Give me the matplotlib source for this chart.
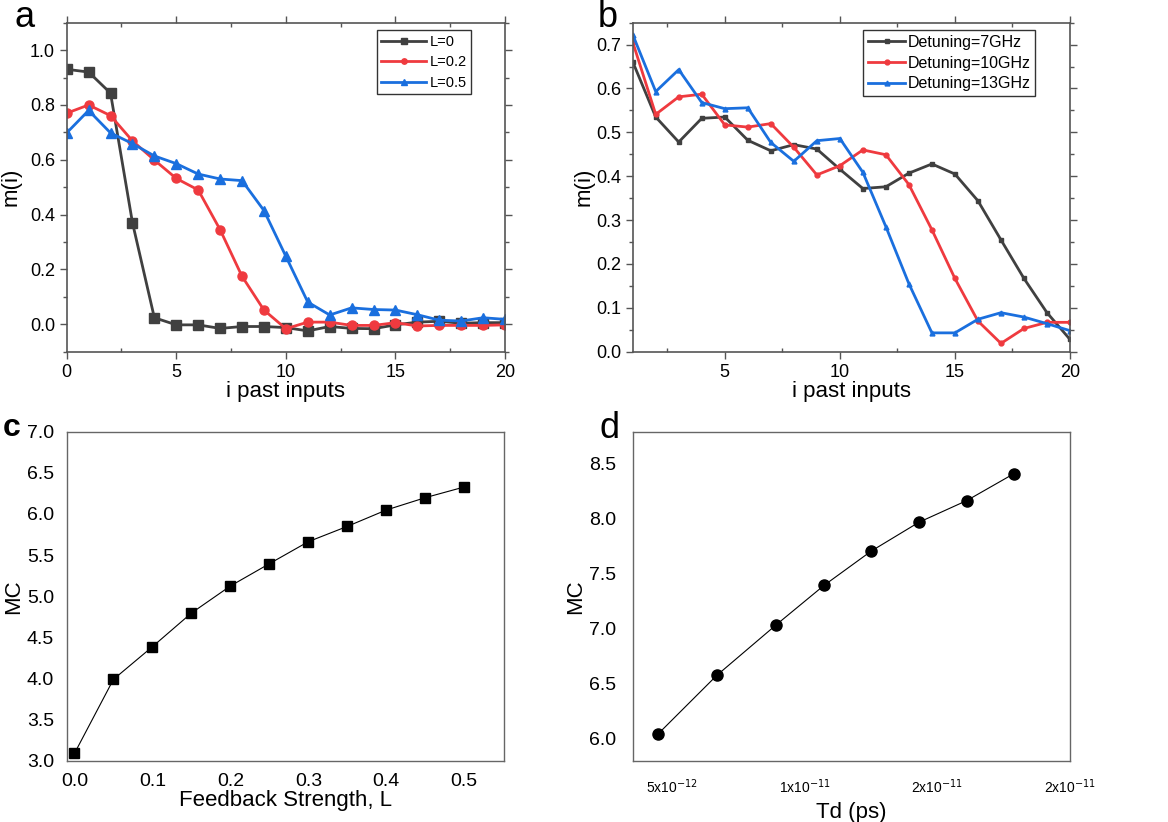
import numpy as np
import matplotlib.pyplot as plt
from matplotlib.ticker import MultipleLocator, FixedLocator, FuncFormatter

plt.rcParams['font.family'] = ['Liberation Sans', 'DejaVu Sans']

# panel a: memory function for different feedback strengths
i_a = list(range(21))
m_L0 = [0.93, 0.92, 0.843, 0.371, 0.024, -0.002, -0.002, -0.015, -0.008, -0.008, -0.012,
        -0.024, -0.008, -0.015, -0.016, -0.002, 0.008, 0.011, 0.004, 0.006, 0.006]
m_L02 = [0.770, 0.800, 0.761, 0.669, 0.599, 0.532, 0.490, 0.345, 0.175, 0.052, -0.016,
         0.008, 0.008, -0.004, -0.004, 0.006, -0.006, -0.004, -0.004, -0.004, -0.002]
m_L05 = [0.698, 0.780, 0.698, 0.659, 0.614, 0.586, 0.548, 0.530, 0.524, 0.415, 0.248,
         0.081, 0.034, 0.060, 0.054, 0.052, 0.035, 0.015, 0.012, 0.024, 0.018]
labels_a = ['L=0', 'L=0.2', 'L=0.5']

# panel b: memory function for different detunings
i_b = list(range(1, 21))
m_7GHz = [0.661, 0.535, 0.478, 0.532, 0.535, 0.482, 0.458, 0.472, 0.462, 0.416,
          0.372, 0.376, 0.407, 0.428, 0.405, 0.344, 0.255, 0.167, 0.089, 0.028]
m_10GHz = [0.706, 0.541, 0.581, 0.587, 0.517, 0.512, 0.520, 0.466, 0.403, 0.424,
           0.460, 0.449, 0.381, 0.278, 0.167, 0.070, 0.019, 0.053, 0.067, 0.067]
m_13GHz = [0.723, 0.593, 0.643, 0.568, 0.554, 0.556, 0.477, 0.434, 0.481, 0.486,
           0.409, 0.285, 0.155, 0.043, 0.043, 0.074, 0.089, 0.079, 0.064, 0.048]
labels_b = ['Detuning=7GHz', 'Detuning=10GHz', 'Detuning=13GHz']

# panel c: memory capacity vs feedback strength
L_vals = [0.0, 0.05, 0.1, 0.15, 0.2, 0.25, 0.3, 0.35, 0.4, 0.45, 0.5]
mc_L = [3.089, 3.989, 4.386, 4.795, 5.124, 5.395, 5.663, 5.849, 6.048, 6.198, 6.328]

# panel d: memory capacity vs delay time
td_vals = [4.47e-12, 6.70e-12, 8.94e-12, 1.074e-11, 1.252e-11, 1.431e-11, 1.611e-11, 1.789e-11]
mc_td = [6.039, 6.576, 7.036, 7.394, 7.706, 7.967, 8.164, 8.409]
td_ticks = [5e-12, 1e-11, 1.5e-11, 2e-11]

colors = ['#404040', '#ef3a3f', '#1a6fde']
spine_col = '#555555'

fig = plt.figure(figsize=(11.68, 8.22), dpi=100)
ax_a = fig.add_axes([0.0571, 0.5721, 0.3753, 0.4003])
ax_b = fig.add_axes([0.5417, 0.5721, 0.3744, 0.4003])
ax_c = fig.add_axes([0.0571, 0.0746, 0.3744, 0.4002])
ax_d = fig.add_axes([0.5417, 0.0746, 0.3744, 0.4002])


def origin_style(ax):
    for s in ax.spines.values():
        s.set_color(spine_col)
        s.set_linewidth(1.2)
    ax.tick_params(which='both', top=True, right=True, labeltop=False, labelright=False,
                   direction='out', color=spine_col, labelsize=13)
    ax.tick_params(which='major', length=5, width=1)
    ax.tick_params(which='minor', length=3, width=1)
    ax.tick_params(axis='x', which='minor', direction='in')


# panel a
for y, c, mk, lab in zip([m_L0, m_L02, m_L05], colors, ['s', 'o', '^'], labels_a):
    ax_a.plot(i_a, y, color=c, marker=mk, markersize=6.5, linewidth=2, label=lab)
ax_a.set_xlim(0, 20)
ax_a.set_ylim(-0.1, 1.1)
ax_a.xaxis.set_major_locator(MultipleLocator(5))
ax_a.xaxis.set_minor_locator(MultipleLocator(2.5))
ax_a.yaxis.set_major_locator(MultipleLocator(0.2))
ax_a.yaxis.set_minor_locator(MultipleLocator(0.1))
ax_a.set_xlabel('i past inputs', fontsize=16, labelpad=0)
ax_a.set_ylabel('m(i)', fontsize=16, labelpad=6)
origin_style(ax_a)
leg = ax_a.legend(loc='upper right', bbox_to_anchor=(0.922, 0.977), fontsize=10.5,
                  handlelength=3.1, handletextpad=0.2, labelspacing=0.45,
                  borderpad=0.3, borderaxespad=0, fancybox=False, framealpha=1,
                  markerscale=0.6)
leg.get_frame().set_edgecolor('#333333')

# panel b
for y, c, mk, lab in zip([m_7GHz, m_10GHz, m_13GHz], colors, ['s', 'o', '^'], labels_b):
    ax_b.plot(i_b, y, color=c, marker=mk, markersize=3.5, linewidth=2, label=lab)
ax_b.set_xlim(1, 20)
ax_b.set_ylim(0, 0.75)
ax_b.xaxis.set_major_locator(MultipleLocator(5))
ax_b.xaxis.set_minor_locator(MultipleLocator(2.5))
ax_b.yaxis.set_major_locator(MultipleLocator(0.1))
ax_b.yaxis.set_minor_locator(MultipleLocator(0.05))
ax_b.set_xlabel('i past inputs', fontsize=16, labelpad=0)
ax_b.set_ylabel('m(i)', fontsize=16, labelpad=1)
origin_style(ax_b)
leg = ax_b.legend(loc='upper right', bbox_to_anchor=(0.92, 0.977), fontsize=11.5,
                  handlelength=2.3, handletextpad=0.15, labelspacing=0.35,
                  borderpad=0.3, borderaxespad=0, fancybox=False, framealpha=1)
leg.get_frame().set_edgecolor('#333333')

# panel c
ax_c.plot(L_vals, mc_L, color='black', linewidth=0.8, marker='s', markersize=7)
ax_c.set_xlim(-0.01, 0.551)
ax_c.set_ylim(3.0, 7.0)
ax_c.xaxis.set_major_locator(MultipleLocator(0.1))
ax_c.yaxis.set_major_locator(MultipleLocator(0.5))
ax_c.xaxis.set_major_formatter(FuncFormatter(lambda v, p: f'{v:.1f}'))
ax_c.yaxis.set_major_formatter(FuncFormatter(lambda v, p: f'{v:.1f}'))
ax_c.tick_params(length=0, labelsize=14, pad=9)
ax_c.set_xlabel('Feedback Strength, L', fontsize=16, labelpad=0)
ax_c.set_ylabel('MC', fontsize=16, labelpad=2)
for s in ax_c.spines.values():
    s.set_color('#666666')
    s.set_linewidth(1)


def sci_fmt(v, p):
    if v <= 0:
        return ''
    e = int(np.floor(np.log10(v)))
    m = round(v / 10 ** e)
    return f'{m}x10$^{{{e}}}$'


# panel d
ax_d.plot(td_vals, mc_td, color='black', linewidth=0.8, marker='o', markersize=8)
ax_d.set_xlim(3.53e-12, 2.0e-11)
ax_d.set_ylim(5.8, 8.79)
ax_d.xaxis.set_major_locator(FixedLocator(td_ticks))
ax_d.yaxis.set_major_locator(MultipleLocator(0.5))
ax_d.xaxis.set_major_formatter(FuncFormatter(sci_fmt))
ax_d.yaxis.set_major_formatter(FuncFormatter(lambda v, p: f'{v:.1f}'))
ax_d.tick_params(axis='x', length=0, labelsize=10, pad=12)
ax_d.tick_params(axis='y', length=0, labelsize=14, pad=12)
ax_d.set_xlabel('Td (ps)', fontsize=16, labelpad=4)
ax_d.set_ylabel('MC', fontsize=16, labelpad=2)
for s in ax_d.spines.values():
    s.set_color('#666666')
    s.set_linewidth(1)

# panel letters
fig.text(0.012, 1.0, 'a', fontsize=26, va='top', ha='left')
fig.text(0.512, 1.0, 'b', fontsize=26, va='top', ha='left')
fig.text(0.002, 0.497, 'c', fontsize=23, va='top', ha='left', fontweight='bold')
fig.text(0.513, 0.500, 'd', fontsize=26, va='top', ha='left')

fig.savefig('out.png', dpi=100)
